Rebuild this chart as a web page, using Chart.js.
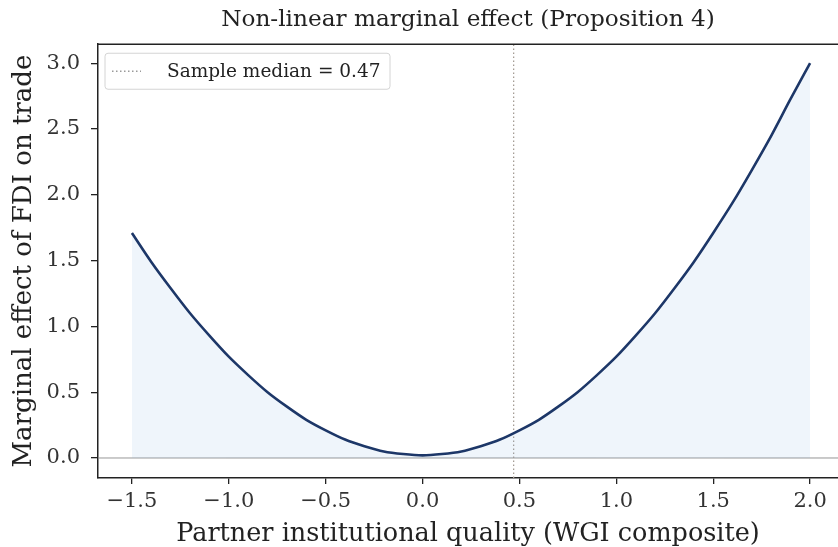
<!DOCTYPE html>
<html><head><meta charset="utf-8">
<script src="https://cdn.jsdelivr.net/npm/chart.js@4.4.0/dist/chart.umd.min.js"></script>
<style>html,body{margin:0;padding:0;background:#fff;overflow:hidden}#wrap{width:838px;height:547px;position:relative}</style>
</head><body><div id="wrap"><canvas id="c"></canvas></div>
<script>
// Partner institutional quality (x) and marginal effect (y)
const qualityValues = [-1.5,-1.4,-1.3,-1.2,-1.1,-1.0,-0.9,-0.8,-0.7,-0.6,-0.5,-0.4,-0.3,-0.2,-0.1,0.0,0.1,0.2,0.3,0.4,0.5,0.6,0.7,0.8,0.9,1.0,1.1,1.2,1.3,1.4,1.5,1.6,1.7,1.8,1.9,2.0];
const effectValues  = [1.71,1.49,1.29,1.10,0.93,0.77,0.63,0.50,0.39,0.29,0.21,0.14,0.09,0.05,0.03,0.02,0.03,0.05,0.09,0.14,0.21,0.29,0.39,0.50,0.63,0.77,0.93,1.10,1.29,1.49,1.71,1.94,2.19,2.45,2.73,3.00];
const xTickValues = [-1.5,-1.0,-0.5,0.0,0.5,1.0,1.5,2.0];
const yTickValues = [0.0,0.5,1.0,1.5,2.0,2.5,3.0];
const medianValue = 0.47;
const xLimits = [-1.675, 2.144];
const yLimits = [-0.152, 3.144];

const SERIF = "'DejaVu Serif', 'Liberation Serif', serif";
const fmt = v => (v < 0 ? '\u2212' : '') + Math.abs(v).toFixed(1);

const curve = qualityValues.map((x, i) => ({x, y: effectValues[i]}));
const zeroLine = [{x: xLimits[0], y: 0}, {x: xLimits[1], y: 0}];
const medianLine = [{x: medianValue, y: yLimits[0]}, {x: medianValue, y: yLimits[1]}];

const framePlugin = {
  id: 'frame',
  afterDatasetsDraw(chart) {
    const {ctx, chartArea: a} = chart;
    ctx.save();
    ctx.strokeStyle = '#222';
    ctx.lineWidth = 1.5;
    ctx.beginPath();
    ctx.moveTo(a.left, a.top); ctx.lineTo(a.right + 2, a.top);
    ctx.stroke();
    // legend box
    const bx = a.left + 7, by = a.top + 9, bw = 285, bh = 36;
    ctx.fillStyle = 'rgba(255,255,255,0.8)';
    ctx.strokeStyle = '#d4d4d4';
    ctx.lineWidth = 1;
    ctx.beginPath();
    ctx.roundRect(bx, by, bw, bh, 3);
    ctx.fill(); ctx.stroke();
    ctx.strokeStyle = '#9a9a9a';
    ctx.lineWidth = 1.3;
    ctx.setLineDash([1.5, 2.5]);
    ctx.beginPath();
    ctx.moveTo(bx + 7, by + bh / 2); ctx.lineTo(bx + 36, by + bh / 2);
    ctx.stroke();
    ctx.setLineDash([]);
    ctx.fillStyle = '#222';
    ctx.font = '18.5px ' + SERIF;
    ctx.textBaseline = 'middle';
    ctx.fillText(chart.data.datasets[2].label, bx + 62, by + bh / 2 + 1);
    ctx.restore();
  }
};

new Chart(document.getElementById('c'), {
  type: 'line',
  data: {
    datasets: [
      {
        label: 'Marginal effect',
        data: curve,
        borderColor: '#1d3768',
        borderWidth: 2.6,
        backgroundColor: 'rgba(130,175,225,0.13)',
        fill: {value: 0},
        pointRadius: 0,
        cubicInterpolationMode: 'monotone',
        order: 0
      },
      {
        label: 'zero',
        data: zeroLine,
        borderColor: '#8a8a8a',
        borderWidth: 0.9,
        pointRadius: 0,
        fill: false,
        order: 2
      },
      {
        label: 'Sample median = 0.47',
        data: medianLine,
        borderColor: '#a49c94',
        borderWidth: 1.3,
        borderDash: [1.5, 2.5],
        pointRadius: 0,
        fill: false,
        order: 1
      }
    ]
  },
  options: {
    responsive: true,
    maintainAspectRatio: false,
    animation: false,
    devicePixelRatio: 1,
    layout: {padding: {left: 0, right: 0, top: 0, bottom: 0}},
    plugins: {
      legend: {display: false},
      tooltip: {enabled: false},
      title: {
        display: true,
        fullSize: false,
        text: 'Non-linear marginal effect (Proposition 4)',
        color: '#222',
        font: {family: SERIF, size: 23.2, weight: 'normal'},
        padding: {top: 6.2, bottom: 10.2}
      }
    },
    scales: {
      x: {
        type: 'linear',
        min: xLimits[0], max: xLimits[1],
        afterBuildTicks: s => { s.ticks = xTickValues.map(v => ({value: v})); },
        afterFit: s => { s.height = 69; s.paddingLeft = 0; s.paddingRight = 0; },
        ticks: {
          color: '#333', padding: 5,
          font: {family: SERIF, size: 21},
          callback: v => fmt(v),
          maxRotation: 0, autoSkip: false
        },
        grid: {drawOnChartArea: false, drawTicks: true, tickLength: 6, color: '#222', lineWidth: 1.3},
        border: {display: true, color: '#222', width: 1.5},
        title: {
          display: true,
          text: 'Partner institutional quality (WGI composite)',
          color: '#222',
          font: {family: SERIF, size: 25.5},
          padding: {top: 0, bottom: -3}
        }
      },
      y: {
        type: 'linear',
        min: yLimits[0], max: yLimits[1],
        afterBuildTicks: s => { s.ticks = yTickValues.map(v => ({value: v})); },
        afterFit: s => { s.width = 98; s.paddingTop = 0; s.paddingBottom = 0; },
        ticks: {
          color: '#333', padding: 11,
          font: {family: SERIF, size: 21},
          callback: v => fmt(v)
        },
        grid: {drawOnChartArea: false, drawTicks: true, tickLength: 7, color: '#222', lineWidth: 1.3},
        border: {display: true, color: '#222', width: 1.5},
        title: {
          display: true,
          text: 'Marginal effect of FDI on trade',
          color: '#222',
          font: {family: SERIF, size: 26},
          padding: {top: 8.4, bottom: 0}
        }
      }
    }
  },
  plugins: [framePlugin]
});
</script>
</body></html>
